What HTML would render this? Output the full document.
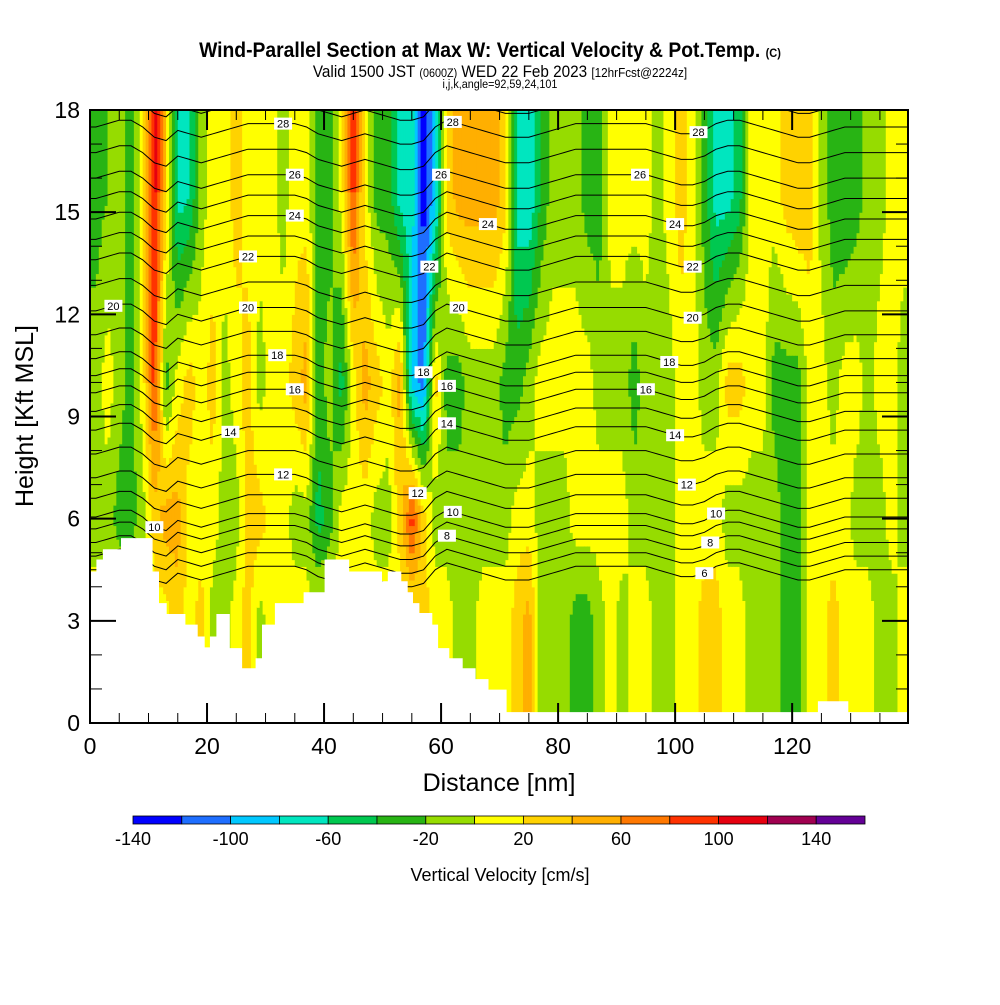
<!DOCTYPE html>
<html><head><meta charset="utf-8">
<style>
body{margin:0;background:#fff;}
svg text{font-family:"Liberation Sans",sans-serif;}
</style></head>
<body>
<svg id="chart" width="1000" height="1000" viewBox="0 0 1000 1000" xmlns="http://www.w3.org/2000/svg">
<rect width="1000" height="1000" fill="#fff"/>
<text x="490" y="57" text-anchor="middle" font-size="21" font-weight="bold" transform="translate(490 0) scale(0.92 1) translate(-490 0)">Wind-Parallel Section at Max W: Vertical Velocity &amp; Pot.Temp. <tspan font-size="12">(C)</tspan></text>
<text x="500" y="77" text-anchor="middle" font-size="17" transform="translate(500 0) scale(0.9 1) translate(-500 0)">Valid 1500 JST <tspan font-size="12">(0600Z)</tspan> WED 22 Feb 2023 <tspan font-size="13">[12hrFcst@2224z]</tspan></text>
<text x="500" y="88" text-anchor="middle" font-size="12" transform="translate(500 0) scale(0.9 1) translate(-500 0)">i,j,k,angle=92,59,24,101</text>
<defs><clipPath id="plotclip"><rect x="90" y="110" width="818" height="613"/></clipPath></defs>
<g id="field" clip-path="url(#plotclip)"></g>
<g id="contours" clip-path="url(#plotclip)"></g>
<g id="terrain" clip-path="url(#plotclip)"></g>
<g id="labels" clip-path="url(#plotclip)"></g>
<g id="axes"></g>
<g id="colorbar"></g>
<text x="499" y="791" text-anchor="middle" font-size="25">Distance [nm]</text>
<text x="0" y="0" text-anchor="middle" font-size="25" transform="translate(33 416) rotate(-90)">Height [Kft MSL]</text>
<text x="500" y="881" text-anchor="middle" font-size="18">Vertical Velocity [cm/s]</text>
</svg>
<script>
const colCenters = [1,3,5,7,9,11,13,15,17,19,21,23,25,27,29,31,33,35,37,39,41,43,45,47,49,51,53,55,57,59,61,63,65,67,69,71,73,75,77,79,81,83,85,87,89,91,93,95,97,99,101,103,105,107,109,111,113,115,117,119,121,123,125,127,129,131,133,135,137,139];
const levelHeights = [3,6,10,15.5];
const wLow = [10,10,10,10,10,10,10,30,10,30,-10,-10,10,30,-10,10,10,10,10,10,10,10,10,10,10,10,10,10,30,10,10,-10,-10,10,10,10,30,50,-10,-10,-10,-30,-30,-10,10,-10,10,10,-10,-10,10,10,30,30,10,10,-10,-10,-10,-30,-30,10,10,30,10,10,10,-10,-10,10];
const wMidLow = [-10,-10,-30,-30,-10,30,50,50,10,10,10,-10,-10,30,30,10,10,-10,-10,-50,-30,10,10,10,-10,-10,30,90,30,-10,-10,-10,-10,-10,-10,-10,10,10,-10,-10,-10,10,10,10,10,10,-10,-10,-10,-10,10,10,10,10,-10,-10,-10,-10,-10,-30,-30,10,10,10,10,-10,-10,-10,10,-10];
const wMid = [-10,10,-10,-30,10,90,-30,10,30,10,30,-10,10,30,-10,10,10,30,50,-30,-10,-50,10,50,30,10,50,-90,-110,30,-30,-30,-10,-10,-10,-30,-30,-10,10,10,10,10,10,-10,-10,-10,-30,-10,-10,-10,10,10,-10,-10,30,30,10,10,-30,-30,-30,10,10,-10,10,10,-10,10,10,-10];
const wHigh = [-30,-20,-10,-30,10,110,30,-70,-60,-10,10,10,30,10,10,10,-10,10,10,-30,-30,10,90,10,-30,-30,-70,-70,-130,-90,30,50,50,50,50,30,-70,-80,-40,-10,-10,-10,-30,-30,10,10,10,10,-10,10,30,10,-30,-70,-70,-50,10,10,10,30,40,30,-10,-30,-40,-30,-10,-10,10,10];
const thetaLevels = [6,7,8,9,10,11,12,13,14,15,16,17,18,19,20,21,22,23,24,25,26,27,28,29];
const thetaHeights = [4.5,4.9,5.3,5.7,6.05,6.6,7.2,7.9,8.6,9.15,9.7,10.2,10.7,11.4,12.1,12.85,13.6,14.2,14.8,15.4,16.0,16.75,17.5,18.2];
const thetaShift = [0,0.1,0.2,0.2,0,-0.3,-0.4,-0.1,-0.2,-0.3,-0.2,-0.1,0,0.1,0.1,0.1,0.1,0.1,0,-0.2,-0.3,-0.4,-0.3,-0.2,-0.3,-0.4,-0.5,-0.5,-0.4,0,0.2,0.1,0,-0.1,-0.2,-0.3,-0.3,-0.3,-0.2,-0.1,0,0.1,0.1,0.1,0.1,0.1,0.1,0.1,0,-0.1,-0.2,-0.2,-0.1,0.1,0.2,0.2,0.1,0,-0.1,-0.2,-0.3,-0.3,-0.2,-0.1,0,0,0,0,0,0];
const labelNm = [33,35,35,27,27,32,35,24,33,11,4,62,60,68,58,63,57,61,61,56,62,61,104,94,100,103,103,99,95,100,102,107,106,105];
const labelLevel = [28,26,24,22,20,18,16,14,12,10,20,28,26,24,22,20,18,16,14,12,10,8,28,26,24,22,20,18,16,14,12,10,8,6];
const terrainStart = [0,1.1,2.2,5.3,10.7,11.8,13.1,16.3,18.4,19.6,20.5,21.6,23.9,26,28.3,29.4,31.6,36.5,40.1,44.3,49.9,50.9,53.2,54.3,55.2,56.3,58.5,59.5,61.4,63.7,65.9,68.1,71.2,124.4,129.6];
const terrainHeight = [4.45,4.8,5.1,5.43,4.45,3.52,3.2,2.89,2.54,2.22,2.54,3.2,2.2,1.61,1.9,2.89,3.52,3.84,4.8,4.45,4.16,4.45,4.16,3.84,3.52,3.23,2.89,2.2,1.9,1.61,1.29,0.98,0.32,0.64,0.32];
const binColors = ["#0000ff","#1e6eff","#00c8ff","#00e6bf","#00c850","#28b414","#96dc00","#ffff00","#ffd200","#ffaf00","#ff7800","#ff3200","#e6000f","#a00050","#640096"];
const cbLabels = [-140,-100,-60,-20,20,60,100,140];

const NS="http://www.w3.org/2000/svg";
const X0=90,X1=908,Y0=723,Y1=110,NMMAX=139.8,KMAX=18;
function xs(nm){return X0+nm*(X1-X0)/NMMAX;}
function ys(k){return Y0-k*(Y0-Y1)/KMAX;}
function mk(tag,attrs,parent){const e=document.createElementNS(NS,tag);for(const k in attrs)e.setAttribute(k,attrs[k]);parent.appendChild(e);return e;}
function colInterp(arr,nm){
  if(nm<=colCenters[0])return arr[0];
  const n=colCenters.length;
  if(nm>=colCenters[n-1])return arr[n-1];
  let i=Math.floor((nm-colCenters[0])/2);
  const t=(nm-colCenters[i])/(colCenters[i+1]-colCenters[i]);
  return arr[i]*(1-t)+arr[i+1]*t;
}
function wAt(nm,h){
  const lv=[wLow,wMidLow,wMid,wHigh].map(a=>colInterp(a,nm));
  if(h<=levelHeights[0])return lv[0];
  if(h>=levelHeights[3])return lv[3];
  for(let j=0;j<3;j++){if(h<=levelHeights[j+1]){const t=(h-levelHeights[j])/(levelHeights[j+1]-levelHeights[j]);return lv[j]*(1-t)+lv[j+1]*t;}}
}
function binIdx(v){let b=Math.floor((v+140)/20);return Math.max(0,Math.min(14,b));}

const field=document.getElementById('field');
const dx=0.5,dh=0.2;
for(let nm=0;nm<NMMAX;nm+=dx){
  let start=0,cur=binIdx(wAt(nm+dx/2,dh/2));
  for(let h=dh;h<=KMAX+1e-6;h+=dh){
    const b=h>=KMAX-1e-6?-1:binIdx(wAt(nm+dx/2,h+dh/2));
    if(b!==cur){
      const r=mk('rect',{x:xs(nm).toFixed(2),y:ys(h).toFixed(2),width:(xs(nm+dx)-xs(nm)+0.6).toFixed(2),height:(ys(start)-ys(h)+0.6).toFixed(2),fill:binColors[cur]},field);
      
      
      start=h;cur=b;
    }
  }
}
const cg=document.getElementById('contours');
thetaLevels.forEach((lv,li)=>{
  let pts=[];
  for(let nm=0;nm<=NMMAX+1;nm+=1){pts.push(xs(nm).toFixed(1)+','+ys(thetaHeights[li]+colInterp(thetaShift,nm)).toFixed(1));}
  const p=mk('polyline',{points:pts.join(' '),fill:'none',stroke:'#000','stroke-width':1},cg);
  
  
});
const tg=document.getElementById('terrain');
let tp=[xs(0)+','+ys(0)];
terrainStart.forEach((s,i)=>{
  const e=i+1<terrainStart.length?terrainStart[i+1]:NMMAX+1;
  tp.push(xs(s).toFixed(1)+','+ys(terrainHeight[i]).toFixed(1));
  tp.push(xs(e).toFixed(1)+','+ys(terrainHeight[i]).toFixed(1));
});
tp.push(xs(NMMAX+1)+','+ys(0));
const terr=mk('polygon',{points:tp.join(' '),fill:'#fff'},tg);


const lg=document.getElementById('labels');
labelNm.forEach((nm,i)=>{
  const li=thetaLevels.indexOf(labelLevel[i]);
  const x=xs(nm),y=ys(thetaHeights[li]+colInterp(thetaShift,nm));
  const g=mk('g',{},lg);
  
  
  mk('rect',{x:x-9,y:y-6,width:18,height:12,fill:'#fff'},g);
  const t=mk('text',{x:x,y:y+4,'text-anchor':'middle','font-size':11},g);
  t.textContent=labelLevel[i];
});
const ag=document.getElementById('axes');
const frame=mk('rect',{x:X0,y:Y1,width:X1-X0,height:Y0-Y1,fill:'none',stroke:'#000','stroke-width':2},ag);


for(let nm=0;nm<=NMMAX;nm+=5){
  const L=nm%20===0?20:10,x=xs(nm);
  mk('line',{x1:x,y1:Y0,x2:x,y2:Y0-L,stroke:'#000','stroke-width':nm%20===0?2:1},ag);
  mk('line',{x1:x,y1:Y1,x2:x,y2:Y1+L,stroke:'#000','stroke-width':nm%20===0?2:1},ag);
  if(nm%20===0){const t=mk('text',{x:x,y:754,'text-anchor':'middle','font-size':23},ag);t.textContent=nm;}
}
for(let k=0;k<=KMAX;k+=1){
  const L=k%3===0?26:12,y=ys(k);
  mk('line',{x1:X0,y1:y,x2:X0+L,y2:y,stroke:'#000','stroke-width':k%3===0?2:1},ag);
  mk('line',{x1:X1,y1:y,x2:X1-L,y2:y,stroke:'#000','stroke-width':k%3===0?2:1},ag);
  if(k%3===0){const t=mk('text',{x:80,y:y+8,'text-anchor':'end','font-size':23},ag);t.textContent=k;}
}
const cb=document.getElementById('colorbar');
const cbx0=133,cbw=48.8;
binColors.forEach((c,i)=>{
  const r=mk('rect',{x:cbx0+i*cbw,y:816,width:cbw,height:8,fill:c,stroke:'#000','stroke-width':0.8},cb);
  
  
});
cbLabels.forEach(v=>{
  const t=mk('text',{x:cbx0+(v+140)/20*cbw,y:845,'text-anchor':'middle','font-size':18},cb);
  
  
  t.textContent=v;
});
</script>
</body></html>
